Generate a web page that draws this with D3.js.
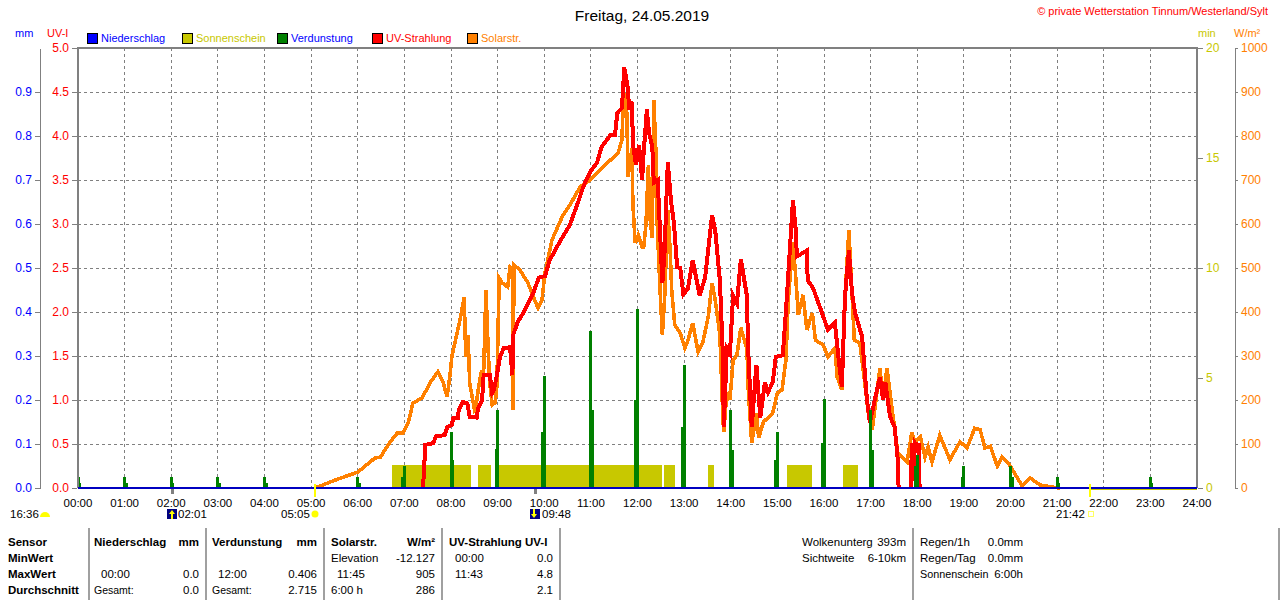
<!DOCTYPE html>
<html>
<head>
<meta charset="utf-8">
<script src="https://d3js.org/d3.v7.min.js"></script>
<style>
  html, body { margin: 0; padding: 0; background: #fff; }
  svg { display: block; }
  text { font-family: "Liberation Sans", Arial, sans-serif; font-size: 11.5px; }
  .crisp { shape-rendering: crispEdges; }
</style>
</head>
<body>
<div id="container"></div>
<script>
// zeit in minuten seit 00:00
const solarMin = [305,337,360,382,389,402,411,418,425,431,443,453,463,470,475,479,481,492,497,499,502,504,511,515,519,522,525,528,530,533,537,539,542,546,553,556,559,560,561,569,579,586,592,597,601,610,624,633,646,659,672,685,695,700,701,704,706,708,710,713,714,717,721,726,728,731,734,736,739,741,744,745,749,752,755,759,762,764,768,775,781,785,791,798,804,811,816,820,826,830,831,835,839,843,848,853,861,862,867,873,876,882,894,900,906,911,914,920,923,927,933,938,945,949,959,965,974,977,983,987,992,996,999,1006,1010,1017,1022,1028,1032,1036,1041,1049,1055,1067,1073,1077,1084,1090,1094,1099,1109,1122,1135,1144,1154,1161,1167,1174,1183,1189,1199,1215,1225,1238,1253,1264];
const solarVal = [0,22,36,68,70,105,125,125,148,193,205,239,264,239,207,261,298,386,434,298,348,239,170,223,264,264,450,307,238,189,194,230,477,466,457,502,497,177,507,495,466,434,409,427,489,564,620,643,684,700,723,745,761,791,843,898,866,707,739,773,648,557,575,548,548,602,734,616,568,882,752,616,450,348,434,632,541,450,370,352,318,336,375,309,330,389,466,427,348,155,127,218,200,291,302,364,314,239,102,170,114,150,170,216,223,291,427,559,495,393,439,359,398,336,325,298,318,252,223,434,586,443,336,330,275,170,132,216,273,200,273,161,80,59,127,105,116,70,93,59,120,64,105,91,136,132,91,95,50,70,52,5,23,7,2,0];

const uvMin = [444,447,457,461,472,475,481,483,489,490,495,501,504,513,515,520,522,530,533,535,539,543,548,556,559,560,566,573,579,586,593,601,607,614,620,633,646,650,659,668,674,685,691,694,700,703,708,709,713,714,718,722,726,727,732,735,739,741,746,752,755,757,759,763,767,771,775,779,785,791,800,807,816,820,826,830,831,835,839,843,848,853,861,862,867,873,878,884,888,894,898,907,912,916,920,924,925,938,939,946,957,965,974,979,983,987,992,996,1000,1009,1015,1019,1028,1032,1036,1039,1045,1051,1055,1056,1064,1072,1073,1075,1077,1080,1082,1083];
const uvVal = [0,.49,.51,.59,.6,.69,.72,.8,.8,.89,.98,.96,.81,.8,.91,1,1.28,1.28,1.08,1.11,1.28,1.49,1.59,1.6,1.28,1.74,1.89,1.99,2.1,2.22,2.39,2.41,2.59,2.7,2.8,2.99,3.31,3.42,3.59,3.7,3.88,4.01,4.01,4.26,4.32,4.78,4.52,4.3,4.39,3.92,3.67,3.9,3.5,3.69,4.3,4.03,3.88,3.47,3.5,2.33,2.7,3.24,3.7,3.27,3,2.51,2.5,2.2,2.27,2.59,2.19,2.39,3.1,2.93,2.36,1.49,.69,1.59,1.53,2.19,2.1,2.6,2.17,1.65,.69,1.4,.8,1.2,1.09,1.2,1.49,1.51,2.14,2.7,3.27,2.9,2.63,2.7,2.36,2.27,2,1.8,1.88,1.45,1.15,2.17,2.7,2.22,1.99,1.72,1.03,.74,1.11,1.26,1,1.2,.81,.69,.32,0,null,0,.51,.08,.51,.47,.51,0];

const evapMin = [0,60,120,180,240,360,420,480,540,600,660,720,780,840,900,960,1020,1080,1140,1200,1260,1380];
const evapVal = [.025,.025,.025,.025,.025,.025,.05,.127,.177,.255,.357,.406,.28,.177,.127,.202,.177,.075,.05,.05,.025,.025];
const evapSideMin = [2,62,122,182,242,362,418,482,538,598,662,718,778,842,898,958,1022,1078,1138,1202,1262,1382];
const evapSideVal = [.011,.011,.011,.011,.011,.011,.025,.064,.089,.127,.177,.2,.139,.086,.064,.102,.086,.05,.025,.025,.011,.011];

const sunStart = [404,515,537,754,811,912,985];
const sunEnd = [506,532,752,768,819,945,1004];
const sunVal = [1.05,1.05,1.05,1.05,1.05,1.05,1.05];

const hourLabels = d3.range(0, 25).map(h => d3.format('02')(h) + ':00');
const uvTicks = [0,.5,1,1.5,2,2.5,3,3.5,4,4.5,5];
const mmTicks = [0,.1,.2,.3,.4,.5,.6,.7,.8,.9];
const minTicks = [0,5,10,15,20];
const wattTicks = [0,100,200,300,400,500,600,700,800,900,1000];

const legendNames = ['Niederschlag','Sonnenschein','Verdunstung','UV-Strahlung','Solarstr.'];
const legendColors = ['#0000ff','#c8c800','#008000','#ff0000','#ff8000'];
const legendTextColors = ['#0000ff','#c8c800','#0000ff','#ff0000','#ff8000'];
const legendX = [87,182,277,372,467];

const w = 1280, h = 600;
const left = 78, right = 1197, top_ = 48, bottom = 488;

const x = d3.scaleLinear().domain([0, 1440]).range([left, right]);
const yUv = d3.scaleLinear().domain([0, 5]).range([bottom, top_]);
const yMm = d3.scaleLinear().domain([0, 1]).range([bottom, top_]);
const yMin = d3.scaleLinear().domain([0, 20]).range([bottom, top_]);
const yW = d3.scaleLinear().domain([0, 1000]).range([bottom, top_]);

const svg = d3.select('#container').append('svg').attr('width', w).attr('height', h);

// gitter
svg.selectAll('.gh').data(uvTicks.slice(1, -1)).enter().append('line')
   .attr('class', 'crisp')
   .attr('x1', left).attr('x2', right)
   .attr('y1', d => yUv(d)).attr('y2', d => yUv(d))
   .attr('stroke', '#808080').attr('stroke-dasharray', '3,3');
svg.selectAll('.gv').data(d3.range(1, 24)).enter().append('line')
   .attr('class', 'crisp')
   .attr('x1', d => x(d * 60)).attr('x2', d => x(d * 60))
   .attr('y1', top_).attr('y2', bottom)
   .attr('stroke', '#808080').attr('stroke-dasharray', '3,3');

// sonnenschein
svg.selectAll('.sun').data(sunStart).enter().append('rect')
   .attr('class', 'crisp')
   .attr('x', d => x(d))
   .attr('width', (d, i) => x(sunEnd[i]) - x(d))
   .attr('y', (d, i) => yMin(sunVal[i]))
   .attr('height', (d, i) => bottom - yMin(sunVal[i]))
   .attr('fill', '#c8c800');

const solarLine = d3.line().x(d => x(d[0])).y(d => yW(d[1]));
const uvLine = d3.line().defined(d => d[1] !== null).x(d => x(d[0])).y(d => yUv(d[1]));

svg.append('path').datum(solarMin.map((m, i) => [m, solarVal[i]]))
   .attr('class', 'crisp')
   .attr('d', solarLine).attr('fill', 'none').attr('stroke', '#ff8000').attr('stroke-width', 3.6);
svg.append('path').datum(uvMin.map((m, i) => [m, uvVal[i]]))
   .attr('class', 'crisp')
   .attr('d', uvLine).attr('fill', 'none').attr('stroke', '#ff0000').attr('stroke-width', 4);

// verdunstung
function evapBars(times, vals) {
  svg.append('g').selectAll('rect').data(times).enter().append('rect')
     .attr('class', 'crisp')
     .attr('x', d => x(d) - 1.5).attr('width', 3)
     .attr('y', (d, i) => yMm(vals[i]))
     .attr('height', (d, i) => bottom - yMm(vals[i]))
     .attr('fill', '#008000');
}
evapBars(evapSideMin, evapSideVal);
evapBars(evapMin, evapVal);

// rahmen
svg.append('path').attr('class', 'crisp')
   .attr('d', `M${left},${bottom} V${top_} H${right} V${bottom}`)
   .attr('fill', 'none').attr('stroke', '#808080').attr('stroke-width', 2);

// sonne unter dem horizont
svg.append('line').attr('class', 'crisp')
   .attr('x1', x(1302)).attr('x2', right).attr('y1', bottom + 1).attr('y2', bottom + 1)
   .attr('stroke', '#c8c800').attr('stroke-width', 2);

// niederschlag nullinie
svg.append('line').attr('class', 'crisp')
   .attr('x1', left).attr('x2', right).attr('y1', bottom).attr('y2', bottom)
   .attr('stroke', '#0000c0').attr('stroke-width', 2);

// achsen
function styleAxis(g, color) {
  g.selectAll('text').attr('fill', color).style('font-size', '12px');
  g.selectAll('line').attr('stroke', '#808080').attr('class', 'crisp');
  g.select('.domain').attr('stroke', '#808080').attr('class', 'domain crisp');
}
svg.append('g').attr('transform', `translate(${left - 1},0)`)
   .call(d3.axisLeft(yUv).tickValues(uvTicks).tickSize(5).tickSizeOuter(0).tickFormat(d3.format('.1f')))
   .call(g => styleAxis(g, '#ff0000'))
   .call(g => g.select('.domain').remove())
   .attr('font-family', null).attr('font-size', null);
svg.append('g').attr('transform', 'translate(40,0)')
   .call(d3.axisLeft(yMm).tickValues(mmTicks).tickSize(5).tickSizeOuter(0).tickFormat(d3.format('.1f')))
   .call(g => styleAxis(g, '#0000ff'))
   .attr('font-family', null).attr('font-size', null);
svg.append('g').attr('transform', `translate(${right + 1},0)`)
   .call(d3.axisRight(yMin).tickValues(minTicks).tickSize(5).tickSizeOuter(0))
   .call(g => styleAxis(g, '#c8c800'))
   .call(g => g.select('.domain').remove())
   .attr('font-family', null).attr('font-size', null);
svg.append('g').attr('transform', 'translate(1235,0)')
   .call(d3.axisRight(yW).tickValues(wattTicks).tickSize(3).tickSizeOuter(0).tickFormat(d3.format('d')))
   .call(g => styleAxis(g, '#ff8000'))
   .attr('font-family', null).attr('font-size', null);

svg.append('g').selectAll('text').data(hourLabels).enter().append('text')
   .attr('x', (d, i) => x(i * 60)).attr('y', 507)
   .attr('text-anchor', 'middle').attr('fill', '#000').text(d => d);

function label(t, px, py, opt) {
  opt = opt || {};
  svg.append('text').attr('x', px).attr('y', py)
     .attr('text-anchor', opt.anchor || 'start')
     .attr('fill', opt.color || '#000')
     .attr('font-weight', opt.bold ? 'bold' : null)
     .style('font-size', opt.size ? opt.size + 'px' : null)
     .text(t);
}

label('Freitag, 24.05.2019', 642, 21, {anchor: 'middle', size: 15.5});
label('© private Wetterstation Tinnum/Westerland/Sylt', 1268, 15, {anchor: 'end', color: '#ff0000', size: 11});
label('mm', 15, 37, {color: '#0000ff', size: 11});
label('UV-I', 47, 37, {color: '#ff0000', size: 11});
label('min', 1198, 37, {color: '#c8c800', size: 11});
label('W/m²', 1234, 37, {color: '#ff8000', size: 11});

// legende
legendNames.forEach((n, i) => {
  svg.append('rect').attr('class', 'crisp')
     .attr('x', legendX[i]).attr('y', 33).attr('width', 10).attr('height', 10)
     .attr('fill', legendColors[i]).attr('stroke', '#000');
  label(n, legendX[i] + 14, 42, {color: legendTextColors[i], size: 11});
});

// sonnenauf/untergang, mond
[305, 1302].forEach(m => {
  svg.append('line').attr('class', 'crisp')
     .attr('x1', x(m)).attr('x2', x(m)).attr('y1', 484).attr('y2', 497)
     .attr('stroke', '#ffff00').attr('stroke-width', 2);
});
[121, 588].forEach(m => {
  svg.append('rect').attr('class', 'crisp')
     .attr('x', x(m) - 1).attr('y', 489).attr('width', 3).attr('height', 5).attr('fill', '#808080');
});
label('16:36', 10, 518);
svg.append('path').attr('d', 'M40,517 a5,5 0 0 1 10,0 z').attr('fill', '#ffff00');
svg.append('rect').attr('class', 'crisp').attr('x', 167).attr('y', 509).attr('width', 10).attr('height', 10).attr('fill', '#000080');
svg.append('path').attr('d', 'M172,510 l3,4 h-2 v5 h-2 v-5 h-2 z').attr('fill', '#ffff00');
label('02:01', 178, 518);
label('05:05', 281, 518);
svg.append('circle').attr('cx', 315).attr('cy', 514).attr('r', 3.5).attr('fill', '#ffff00');
svg.append('rect').attr('class', 'crisp').attr('x', 530).attr('y', 509).attr('width', 10).attr('height', 10).attr('fill', '#000080');
svg.append('path').attr('d', 'M534,518 l-3,-4 h2 v-5 h2 v5 h2 z').attr('fill', '#ffff00');
label('09:48', 542, 518);
label('21:42', 1056, 518);
svg.append('rect').attr('class', 'crisp').attr('x', 1088).attr('y', 511).attr('width', 5).attr('height', 5).attr('fill', '#fff').attr('stroke', '#ffff60');

// tabelle unten
const sepX = [89,206,324,442,560,913,1279];
svg.selectAll('.sep').data(sepX).enter().append('line').attr('class', 'crisp')
   .attr('x1', d => d).attr('x2', d => d).attr('y1', 528).attr('y2', 600)
   .attr('stroke', '#a0a0a0').attr('stroke-width', 1.5);

const rowY = [546,562,578,594];
['Sensor','MinWert','MaxWert','Durchschnitt'].forEach((t, i) => label(t, 8, rowY[i], {bold: true}));

label('Niederschlag', 94, rowY[0], {bold: true});
label('mm', 199, rowY[0], {bold: true, anchor: 'end'});
label('Verdunstung', 212, rowY[0], {bold: true});
label('mm', 317, rowY[0], {bold: true, anchor: 'end'});
label('Solarstr.', 331, rowY[0], {bold: true});
label('W/m²', 435, rowY[0], {bold: true, anchor: 'end'});
label('UV-Strahlung UV-I', 449, rowY[0], {bold: true});

label('Elevation', 331, rowY[1]);
label('-12.127', 435, rowY[1], {anchor: 'end'});
label('00:00', 455, rowY[1]);
label('0.0', 553, rowY[1], {anchor: 'end'});

label('00:00', 101, rowY[2]);
label('0.0', 199, rowY[2], {anchor: 'end'});
label('12:00', 218, rowY[2]);
label('0.406', 317, rowY[2], {anchor: 'end'});
label('11:45', 337, rowY[2]);
label('905', 435, rowY[2], {anchor: 'end'});
label('11:43', 455, rowY[2]);
label('4.8', 553, rowY[2], {anchor: 'end'});

label('Gesamt:', 94, rowY[3], {size: 10.5});
label('0.0', 199, rowY[3], {anchor: 'end'});
label('Gesamt:', 212, rowY[3], {size: 10.5});
label('2.715', 317, rowY[3], {anchor: 'end'});
label('6:00 h', 331, rowY[3]);
label('286', 435, rowY[3], {anchor: 'end'});
label('2.1', 553, rowY[3], {anchor: 'end'});

label('Wolkenunterg', 802, rowY[0]);
label('393m', 906, rowY[0], {anchor: 'end'});
label('Sichtweite', 802, rowY[1]);
label('6-10km', 906, rowY[1], {anchor: 'end'});
label('Regen/1h', 920, rowY[0]);
label('0.0mm', 1023, rowY[0], {anchor: 'end'});
label('Regen/Tag', 920, rowY[1]);
label('0.0mm', 1023, rowY[1], {anchor: 'end'});
label('Sonnenschein', 920, rowY[2], {size: 10.8});
label('6:00h', 1023, rowY[2], {anchor: 'end'});
</script>
</body>
</html>
